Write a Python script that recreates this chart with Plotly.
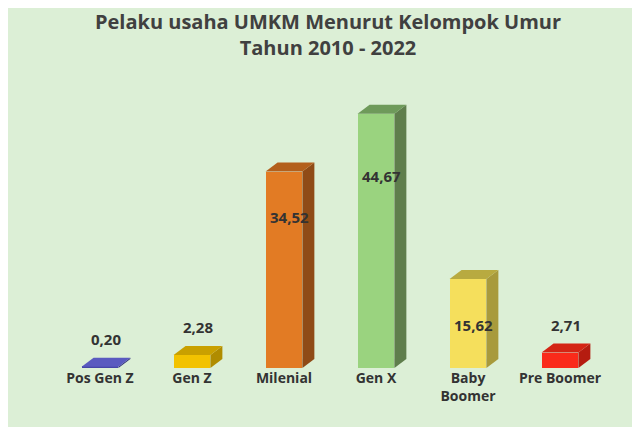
import plotly.graph_objects as go

categories = ["Pos Gen Z", "Gen Z", "Milenial", "Gen X", "Baby<br>Boomer", "Pre Boomer"]
values = [0.20, 2.28, 34.52, 44.67, 15.62, 2.71]
labels = ["0,20", "2,28", "34,52", "44,67", "15,62", "2,71"]
front_colors = ["#4646a8", "#f2c200", "#e27b24", "#9ad37f", "#f5df5c", "#fa2a1a"]
side_colors = ["#2e2e7a", "#b08c00", "#8f4b17", "#5f7e4c", "#a89a3c", "#b51c10"]
top_colors = ["#5a5ac0", "#c9a000", "#b35f1c", "#6e9a5a", "#b8aa40", "#d42414"]

W = 0.4    # front width (category units)
DX = 0.13  # depth offset x
DY = 1.6   # depth offset y (data units)

fig = go.Figure()
xs = list(range(1, len(values) + 1))
for i, (x, v) in enumerate(zip(xs, values)):
    l, r = x - W / 2, x + W / 2
    fig.add_trace(go.Scatter(x=[r, r + DX, r + DX, r, r], y=[0, DY, v + DY, v, 0],
                             fill="toself", fillcolor=side_colors[i], mode="lines",
                             line=dict(width=0), hoverinfo="skip", showlegend=False))
    fig.add_trace(go.Scatter(x=[l, r, r + DX, l + DX, l], y=[v, v, v + DY, v + DY, v],
                             fill="toself", fillcolor=top_colors[i], mode="lines",
                             line=dict(width=0), hoverinfo="skip", showlegend=False))
fig.add_trace(go.Bar(x=xs, y=values, width=W, marker=dict(color=front_colors, line=dict(width=0)),
                     hoverinfo="skip", showlegend=False))

for x, v, t in zip(xs, values, labels):
    if v > 40:
        y, ya = v - 11, "middle"
    elif v > 10:
        y, ya = v - 8, "middle"
    else:
        y, ya = v + DY + 1.2, "bottom"
    fig.add_annotation(x=x + DX / 2, y=y, text="<b>%s</b>" % t, showarrow=False, yanchor=ya,
                       font=dict(size=15, color="#333333", family="Open Sans, Arial"))

fig.update_layout(
    width=640, height=427,
    paper_bgcolor="#dcefd6", plot_bgcolor="#dcefd6",
    margin=dict(l=46, r=42, t=80, b=67, autoexpand=False),
    title=dict(text="<b>Pelaku usaha UMKM Menurut Kelompok Umur<br>Tahun 2010 - 2022</b>",
               x=0.5, xanchor="center", y=0.95, yanchor="top",
               font=dict(size=20, color="#404040", family="Open Sans, Arial")),
    xaxis=dict(range=[0.5, 6.5], tickvals=xs, ticktext=["<b>%s</b>" % c for c in categories],
               showgrid=False, zeroline=False, showline=False, ticks="", automargin=False,
               tickfont=dict(size=14, color="#333333", family="Open Sans, Arial")),
    yaxis=dict(range=[0, 49.2], visible=False, automargin=False),
    bargap=0,
)
fig.write_html("out.html")
